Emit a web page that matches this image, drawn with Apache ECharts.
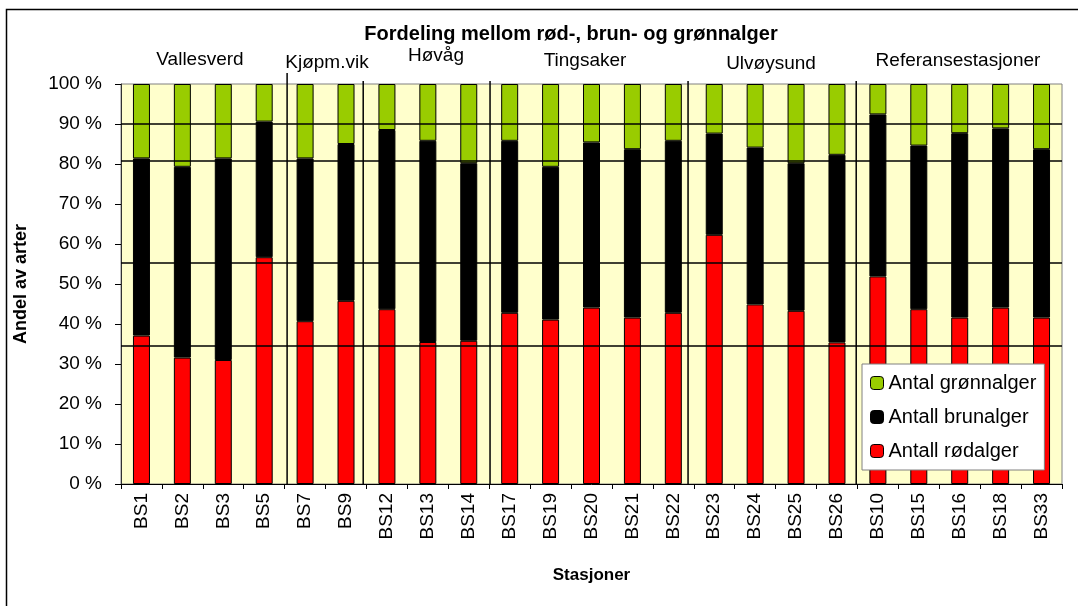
<!DOCTYPE html>
<html>
<head>
<meta charset="utf-8">
<script src="https://cdn.jsdelivr.net/npm/echarts@6/dist/echarts.min.js"></script>
<style>
  html, body { margin: 0; padding: 0; background: #fff; }
  #main { width: 1078px; height: 606px; }
</style>
</head>
<body>
<div id="main"></div>
<script>
// stasjoner (x-akse)
var stations = ['BS1', 'BS2', 'BS3', 'BS5', 'BS7', 'BS9', 'BS12', 'BS13', 'BS14', 'BS17', 'BS19',
  'BS20', 'BS21', 'BS22', 'BS23', 'BS24', 'BS25', 'BS26', 'BS10', 'BS15', 'BS16', 'BS18', 'BS33'];

// andel i prosent, lest av figuren
var redPct   = [37.1, 31.6, 31.0, 56.7, 40.7, 45.8, 43.7, 35.5, 35.8, 42.8, 41.1,
  44.1, 41.6, 42.8, 62.3, 44.9, 43.3, 35.4, 51.9, 43.7, 41.6, 44.1, 41.6];
var brownPct = [44.3, 47.7, 50.4, 33.9, 40.7, 39.2, 44.8, 50.3, 44.4, 43.0, 38.2,
  41.3, 42.1, 43.0, 25.3, 39.2, 36.9, 46.9, 40.5, 40.9, 46.1, 44.8, 42.1];
var greenPct = [18.6, 20.7, 18.6, 9.4, 18.6, 15.0, 11.5, 14.2, 19.8, 14.2, 20.7,
  14.6, 16.3, 14.2, 12.4, 15.9, 19.8, 17.7, 7.6, 15.4, 12.3, 11.1, 16.3];

var seriesNames = ['Antall rødalger', 'Antall brunalger', 'Antal grønnalger'];
var yTicks = [0, 10, 20, 30, 40, 50, 60, 70, 80, 90, 100];

// områdegrupper (skillelinjer i kategori-enheter) og overskrifter
var groupNames = ['Vallesverd', 'Kjøpm.vik', 'Høvåg', 'Tingsaker', 'Ulvøysund', 'Referansestasjoner'];
var separators = [4.06, 5.92, 9.02, 13.86, 17.97];
var separatorTops = [102.75, 100.75, 100.75, 100.75, 100.75];
// tegnede horisontale linjer i figuren
var drawnLines = [90.1, 80.8, 55.4, 34.6];

var FONT = 'Liberation Sans, Arial, sans-serif';
var COLORS = ['#ff0000', '#000000', '#99cc00'];

var chart = echarts.init(document.getElementById('main'));

var groupPos = [[200, 60], [327, 63], [436, 56], [585, 61], [771, 64], [958, 61]];
var graphics = groupNames.map(function(name, i) {
  return {
    type: 'text', x: groupPos[i][0], y: groupPos[i][1], z: 10,
    style: { text: name, font: '19px ' + FONT, fill: '#000', align: 'center', verticalAlign: 'middle' }
  };
});
graphics.push({
  type: 'rect', shape: { x: 6.5, y: 9.5, width: 1200, height: 800 }, z: 20, silent: true,
  style: { fill: 'none', stroke: '#000', lineWidth: 1.5 }
});

var barSeries = seriesNames.map(function(name, i) {
  var vals = [redPct, brownPct, greenPct][i];
  var s = {
    name: name,
    type: 'bar',
    stack: 'total',
    barWidth: 17,
    data: vals,
    itemStyle: { color: COLORS[i], borderColor: '#000', borderWidth: 1 },
    emphasis: { disabled: true }
  };
  if (i === 2) {
    s.markLine = {
      silent: true, symbol: 'none', animation: false,
      label: { show: false },
      lineStyle: { color: '#000', width: 1.5, type: 'solid' },
      data: drawnLines.map(function(v) { return { yAxis: v }; })
    };
  }
  return s;
});

// skillelinjer mellom områdene
barSeries.push({
  type: 'custom',
  xAxisIndex: 1,
  silent: true,
  clip: false,
  z: 5,
  data: separators.map(function(x, i) { return [x, separatorTops[i]]; }),
  renderItem: function(params, api) {
    var p0 = api.coord([api.value(0), 0]);
    var p1 = api.coord([api.value(0), api.value(1)]);
    return {
      type: 'line',
      shape: { x1: p0[0], y1: p0[1], x2: p1[0], y2: p1[1] },
      style: { stroke: '#000', lineWidth: 1.5 }
    };
  }
});

chart.setOption({
  animation: false,
  backgroundColor: '#fff',
  title: {
    text: 'Fordeling mellom rød-, brun- og grønnalger',
    left: 566, top: 19, textAlign: 'center',
    textStyle: { fontFamily: FONT, fontSize: 20, fontWeight: 'bold', color: '#000' }
  },
  grid: { left: 121, right: 16, top: 84, bottom: 122, show: true,
    backgroundColor: '#ffffcc', borderColor: '#808080', borderWidth: 1 },
  legend: {
    orient: 'vertical',
    left: 862, top: 364,
    data: seriesNames.slice().reverse(),
    itemWidth: 13, itemHeight: 13, itemGap: 14,
    padding: [9, 8, 9, 8],
    backgroundColor: '#fff',
    borderColor: '#808080', borderWidth: 1,
    textStyle: { fontFamily: FONT, fontSize: 20, color: '#000' },
    itemStyle: { borderColor: '#000', borderWidth: 1 }
  },
  xAxis: [{
    type: 'category',
    data: stations,
    name: 'Stasjoner',
    nameLocation: 'middle',
    nameGap: 83,
    nameTextStyle: { fontFamily: FONT, fontSize: 17, fontWeight: 'bold', color: '#000' },
    axisLine: { lineStyle: { color: '#000' } },
    axisTick: { show: true, length: 5, lineStyle: { color: '#000' } },
    axisLabel: { rotate: 90, margin: 9, fontFamily: FONT, fontSize: 19, color: '#000' }
  }, {
    type: 'value', min: 0, max: stations.length, show: false
  }],
  yAxis: {
    type: 'value',
    min: 0, max: 100, interval: 10,
    name: 'Andel av arter',
    nameLocation: 'middle',
    nameGap: 91,
    nameTextStyle: { fontFamily: FONT, fontSize: 18, fontWeight: 'bold', color: '#000' },
    axisLine: { show: true, lineStyle: { color: '#333' } },
    axisTick: { show: true, length: 6, lineStyle: { color: '#000' } },
    splitLine: { show: false },
    axisLabel: {
      margin: 19, fontFamily: FONT, fontSize: 19, color: '#000',
      formatter: function(v) { return yTicks.indexOf(v) >= 0 ? v + ' %' : ''; }
    }
  },
  graphic: graphics,
  series: barSeries
});
</script>
</body>
</html>
